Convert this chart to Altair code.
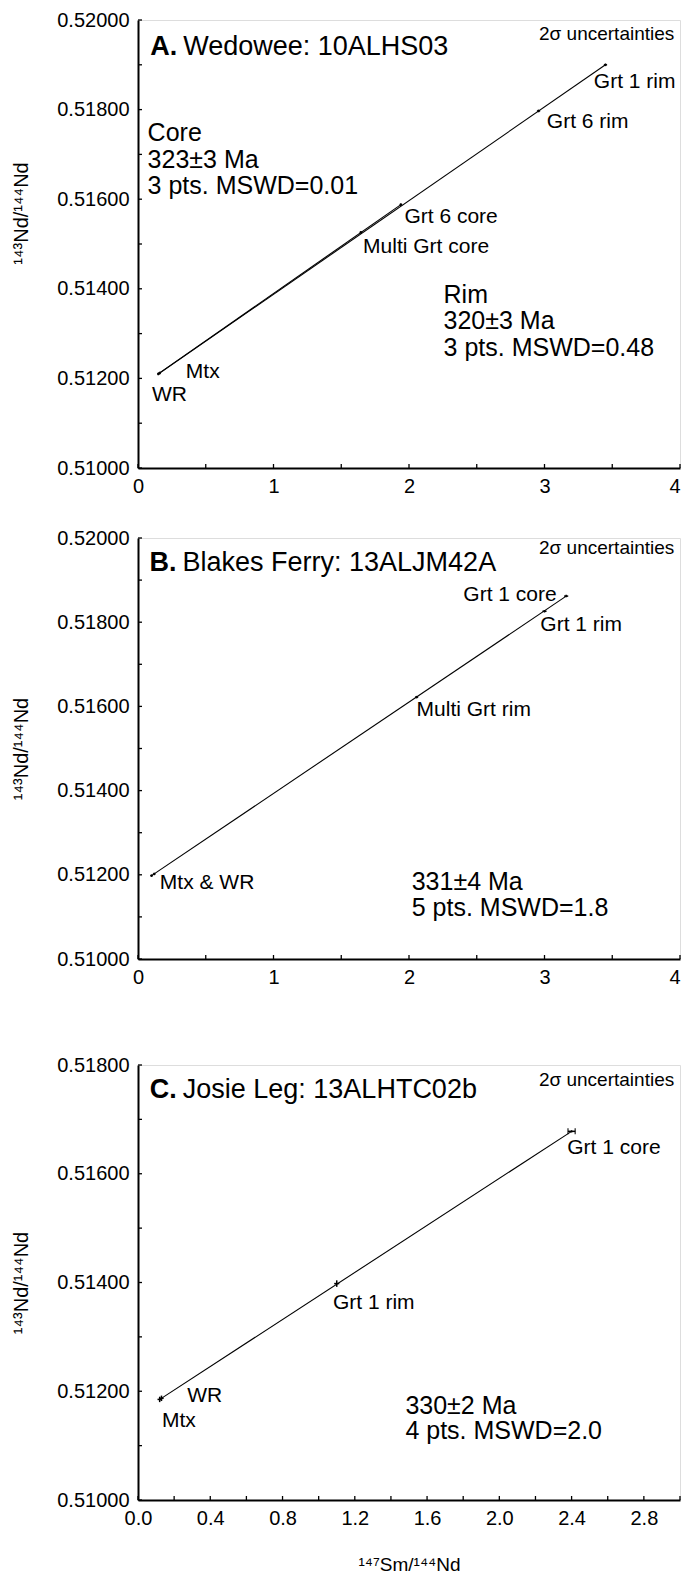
import altair as alt
import pandas as pd

FONT = "Liberation Sans"

# ---------------- Panel A : Wedowee 10ALHS03 ----------------
a_names = ["WR", "Mtx", "Multi Grt core", "Grt 6 core", "Grt 6 rim", "Grt 1 rim"]
a_x = [0.150, 0.160, 1.645, 1.940, 2.956, 3.450]
a_y = [0.51210, 0.51212, 0.51526, 0.51588, 0.51797, 0.51900]
a_xerr = [0.010, 0.010, 0.010, 0.010, 0.012, 0.012]
a_yerr = [0.00003, 0.00003, 0.00003, 0.00003, 0.00003, 0.00003]
a_line_id = ["Core", "Core", "Rim", "Rim"]
a_line_x = [0.150, 1.940, 0.160, 3.450]
a_line_y = [0.51210, 0.51588, 0.51212, 0.51900]
a_lab_text = ["Grt 1 rim", "Grt 6 rim", "Grt 6 core", "Multi Grt core", "Mtx", "WR",
              "Core", "323±3 Ma", "3 pts. MSWD=0.01", "Rim", "320±3 Ma", "3 pts. MSWD=0.48"]
a_lab_x = [3.364, 3.017, 1.966, 1.661, 0.353, 0.103,
           0.071, 0.071, 0.071, 2.255, 2.255, 2.255]
a_lab_y = [0.518610, 0.517732, 0.515599, 0.514929, 0.512134, 0.511636,
           0.517472, 0.516880, 0.516288, 0.513866, 0.513271, 0.512677]
a_lab_big = [False, False, False, False, False, False, True, True, True, True, True, True]
a_title = ["A.", "Wedowee: 10ALHS03"]
a_title_xy = [0.090, 0.51939]
a_note_xy = [3.958, 0.519688]

# ---------------- Panel B : Blakes Ferry 13ALJM42A ----------------
b_names = ["Mtx", "WR", "Multi Grt rim", "Grt 1 rim", "Grt 1 core"]
b_x = [0.100, 0.120, 2.056, 3.000, 3.160]
b_y = [0.51198, 0.51202, 0.51622, 0.51826, 0.51862]
b_xerr = [0.010, 0.010, 0.012, 0.015, 0.015]
b_yerr = [0.00003, 0.00003, 0.00003, 0.00003, 0.00003]
b_line_id = ["All", "All"]
b_line_x = [0.100, 3.160]
b_line_y = [0.51198, 0.51862]
b_lab_text = ["Grt 1 rim", "Multi Grt rim", "Mtx & WR", "331±4 Ma", "5 pts. MSWD=1.8"]
b_lab_x = [2.969, 2.056, 0.161, 2.020, 2.020]
b_lab_y = [0.517932, 0.515903, 0.511806, 0.511830, 0.511215]
b_lab_big = [False, False, False, True, True]
b_rlab_text = ["Grt 1 core"]
b_rlab_x = [3.090]
b_rlab_y = [0.518648]
b_title = ["B.", "Blakes Ferry: 13ALJM42A"]
b_title_xy = [0.085, 0.519403]
b_note_xy = [3.958, 0.519761]

# ---------------- Panel C : Josie Leg 13ALHTC02b ----------------
c_names = ["Mtx", "WR", "Grt 1 rim", "Grt 1 core"]
c_x = [0.120, 0.130, 1.100, 2.400]
c_y = [0.51185, 0.51187, 0.51398, 0.51678]
c_xerr = [0.012, 0.012, 0.014, 0.020]
c_yerr = [0.00005, 0.00005, 0.00006, 0.00002]
c_line_id = ["All", "All"]
c_line_x = [0.125, 2.400]
c_line_y = [0.51186, 0.51678]
c_lab_text = ["Grt 1 core", "Grt 1 rim", "WR", "Mtx", "330±2 Ma", "4 pts. MSWD=2.0"]
c_lab_x = [2.376, 1.079, 0.272, 0.133, 1.480, 1.480]
c_lab_y = [0.516480, 0.513631, 0.511908, 0.511446, 0.511735, 0.511260]
c_lab_big = [False, False, False, False, True, True]
c_title = ["C.", "Josie Leg: 13ALHTC02b"]
c_title_xy = [0.065, 0.517538]
c_note_xy = [2.968, 0.517723]

# ---------------- axes ----------------
ab_xticks = [0, 0.5, 1, 1.5, 2, 2.5, 3, 3.5, 4]
ab_xlabels = [0, 1, 2, 3, 4]
ab_yticks = [0.510, 0.511, 0.512, 0.513, 0.514, 0.515, 0.516, 0.517, 0.518, 0.519, 0.520]
ab_ylabels = [0.510, 0.512, 0.514, 0.516, 0.518, 0.520]
c_xticks = [0, 0.2, 0.4, 0.6, 0.8, 1.0, 1.2, 1.4, 1.6, 1.8, 2.0, 2.2, 2.4, 2.6, 2.8, 3.0]
c_xlabels = [0.0, 0.4, 0.8, 1.2, 1.6, 2.0, 2.4, 2.8]
c_yticks = [0.510, 0.511, 0.512, 0.513, 0.514, 0.515, 0.516, 0.517, 0.518]
c_ylabels = [0.510, 0.512, 0.514, 0.516, 0.518]

NOTE = "2σ uncertainties"
YTITLE = "¹⁴³Nd/¹⁴⁴Nd"
XTITLE = "¹⁴⁷Sm/¹⁴⁴Nd"


def panel(names, px, py, xerr, yerr, line_id, line_x, line_y,
          lab_text, lab_x, lab_y, lab_big, title, title_xy, note_xy,
          xdom, ydom, xticks, xlabels, xfmt, yticks, ylabels, W, H,
          rlab=None, xtitle=None, ytitle_y=None, cap_names=None):
    xscale = alt.Scale(domain=xdom, nice=False, zero=False)
    yscale = alt.Scale(domain=ydom, nice=False, zero=False)
    xax = dict(values=xlabels, format=xfmt, ticks=False, grid=False,
               domainColor="black", domainWidth=2, labelFont=FONT,
               labelFontSize=20, labelColor="black", labelPadding=8,
               labelFlush=False,
               labelAlign={"condition": {"test": "datum.value >= %s" % (xdom[1] - 0.001),
                                         "value": "right"},
                           "value": "center"})
    if xtitle:
        xax.update(titleFont=FONT, titleFontSize=19, titleFontWeight="normal",
                   titleColor="black", titlePadding=27)
    yax = dict(values=ylabels, format=".5f", ticks=False, grid=False,
               domainColor="black", domainWidth=2, labelFont=FONT,
               labelFontSize=20, labelColor="black", labelPadding=9,
               titleFont=FONT, titleFontSize=20, titleFontWeight="normal",
               titleColor="black", titlePadding=25)
    if ytitle_y is not None:
        yax.update(titleY=ytitle_y)

    def X(f):
        return alt.X(f, type="quantitative", scale=xscale, axis=alt.Axis(**xax),
                     title=xtitle)

    def Y(f):
        return alt.Y(f, type="quantitative", scale=yscale, axis=alt.Axis(**yax),
                     title=YTITLE)

    pts = pd.DataFrame({"name": names, "x": px, "y": py,
                        "xlo": [a - b for a, b in zip(px, xerr)],
                        "xhi": [a + b for a, b in zip(px, xerr)],
                        "ylo": [a - b for a, b in zip(py, yerr)],
                        "yhi": [a + b for a, b in zip(py, yerr)]})
    lines = pd.DataFrame({"id": line_id, "x": line_x, "y": line_y})
    labs = pd.DataFrame({"t": lab_text, "x": lab_x, "y": lab_y, "big": lab_big})
    ttl = pd.DataFrame({"b": [title[0]], "r": [title[1]],
                        "x": [title_xy[0]], "y": [title_xy[1]]})
    note = pd.DataFrame({"t": [NOTE], "x": [note_xy[0]], "y": [note_xy[1]]})
    xt = pd.DataFrame({"v": xticks})
    yt = pd.DataFrame({"v": yticks})

    layers = []
    layers.append(alt.Chart(lines).mark_line(color="black", strokeWidth=1.1)
                  .encode(x=X("x"), y=Y("y"), detail="id:N"))
    layers.append(alt.Chart(pts).mark_rule(color="black", strokeWidth=1.5)
                  .encode(x=X("xlo"), x2="xhi", y=Y("y")))
    layers.append(alt.Chart(pts).mark_rule(color="black", strokeWidth=1.5)
                  .encode(x=X("x"), y=Y("ylo"), y2="yhi"))
    if cap_names:
        capd = pts[pts["name"].isin(cap_names)]
        layers.append(alt.Chart(capd).mark_tick(orient="vertical", size=6,
                                                thickness=1.5, color="black")
                      .encode(x=X("xlo"), y=Y("y")))
        layers.append(alt.Chart(capd).mark_tick(orient="vertical", size=6,
                                                thickness=1.5, color="black")
                      .encode(x=X("xhi"), y=Y("y")))
    small = labs[~labs["big"]]
    big = labs[labs["big"]]
    layers.append(alt.Chart(small).mark_text(align="left", baseline="middle",
                                             font=FONT, fontSize=21, color="black")
                  .encode(x=X("x"), y=Y("y"), text="t:N"))
    layers.append(alt.Chart(big).mark_text(align="left", baseline="middle",
                                           font=FONT, fontSize=25, color="black")
                  .encode(x=X("x"), y=Y("y"), text="t:N"))
    if rlab is not None:
        rl = pd.DataFrame({"t": rlab[0], "x": rlab[1], "y": rlab[2]})
        layers.append(alt.Chart(rl).mark_text(align="right", baseline="middle",
                                              font=FONT, fontSize=21, color="black")
                      .encode(x=X("x"), y=Y("y"), text="t:N"))
    layers.append(alt.Chart(ttl).mark_text(align="left", baseline="middle",
                                           font=FONT, fontSize=27, fontWeight="bold",
                                           color="black")
                  .encode(x=X("x"), y=Y("y"), text="b:N"))
    layers.append(alt.Chart(ttl).mark_text(align="left", baseline="middle",
                                           font=FONT, fontSize=27, color="black", dx=33)
                  .encode(x=X("x"), y=Y("y"), text="r:N"))
    layers.append(alt.Chart(note).mark_text(align="right", baseline="middle",
                                            font=FONT, fontSize=19, color="black")
                  .encode(x=X("x"), y=Y("y"), text="t:N"))
    # inward ticks
    layers.append(alt.Chart(xt).mark_rule(color="black", strokeWidth=1.3)
                  .encode(x=X("v"), y=alt.value(H), y2=alt.value(H - 4)))
    layers.append(alt.Chart(yt).mark_rule(color="black", strokeWidth=1.3)
                  .encode(y=Y("v"), x=alt.value(0), x2=alt.value(4)))
    return alt.layer(*layers).properties(width=W, height=H)


PW = 542
pA = panel(a_names, a_x, a_y, a_xerr, a_yerr, a_line_id, a_line_x, a_line_y,
           a_lab_text, a_lab_x, a_lab_y, a_lab_big, a_title, a_title_xy, a_note_xy,
           [0, 4], [0.510, 0.520], ab_xticks, ab_xlabels, "d", ab_yticks, ab_ylabels,
           PW, 448, ytitle_y=193)
pB = panel(b_names, b_x, b_y, b_xerr, b_yerr, b_line_id, b_line_x, b_line_y,
           b_lab_text, b_lab_x, b_lab_y, b_lab_big, b_title, b_title_xy, b_note_xy,
           [0, 4], [0.510, 0.520], ab_xticks, ab_xlabels, "d", ab_yticks, ab_ylabels,
           PW, 421, rlab=(b_rlab_text, b_rlab_x, b_rlab_y))
pC = panel(c_names, c_x, c_y, c_xerr, c_yerr, c_line_id, c_line_x, c_line_y,
           c_lab_text, c_lab_x, c_lab_y, c_lab_big, c_title, c_title_xy, c_note_xy,
           [0, 3.0], [0.510, 0.518], c_xticks, c_xlabels, ".1f", c_yticks, c_ylabels,
           PW, 435, xtitle=XTITLE, cap_names=["Grt 1 core"])

top = alt.vconcat(pA, pB, spacing=30)
chart = alt.vconcat(top, pC, spacing=66).properties(
    padding={"top": 1, "left": 3, "right": 0, "bottom": 0}
).configure_view(stroke="black", strokeWidth=1.5).configure(background="white")

chart.save("out.html", embed_options={"renderer": "svg", "actions": False})
